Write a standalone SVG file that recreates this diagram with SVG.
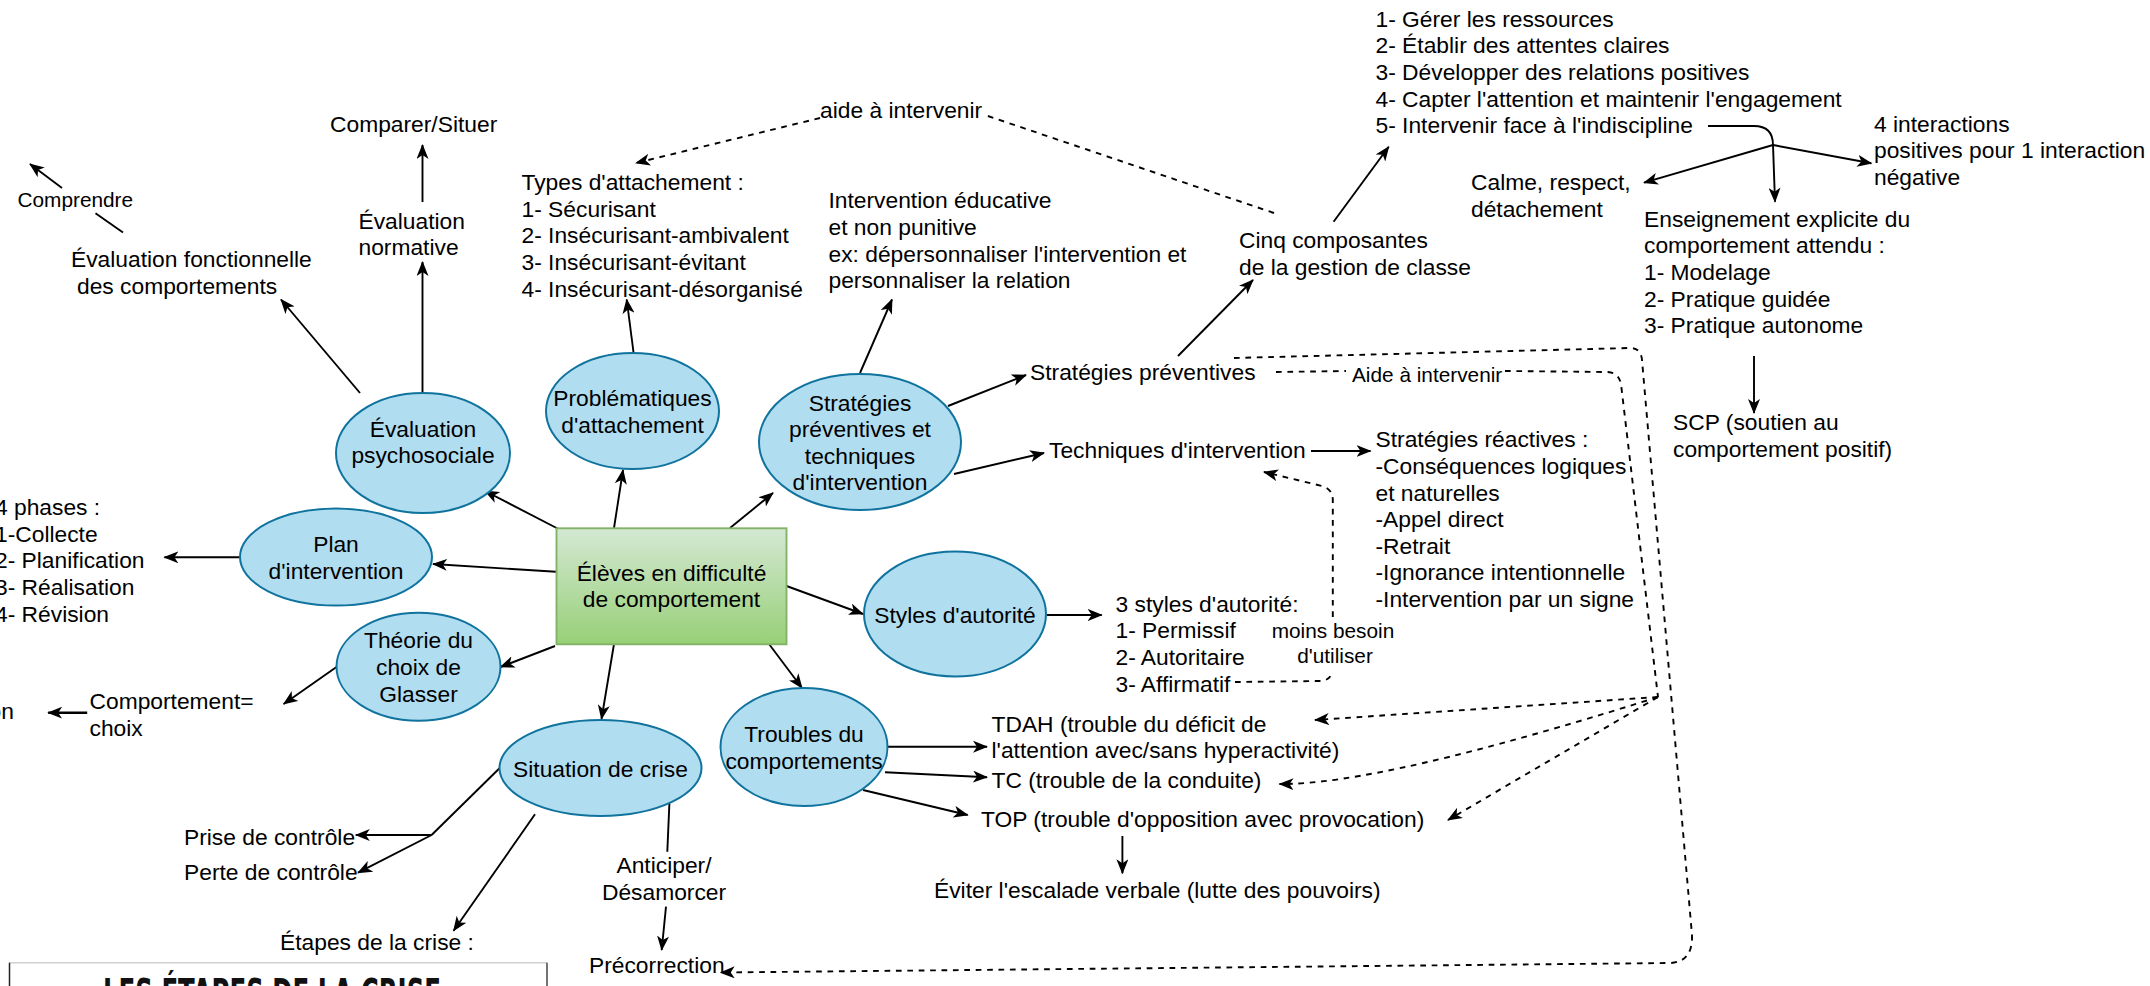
<svg xmlns="http://www.w3.org/2000/svg" width="2150" height="986" viewBox="0 0 2150 986">
<style>
text{font-family:"Liberation Sans",Arial,Helvetica,sans-serif;font-size:22.8px;fill:#000}
.sm{font-size:20.8px}
.c{text-anchor:middle}
.node{fill:#b1ddf0;stroke:#10739e;stroke-width:2}
.ln{fill:none;stroke:#000;stroke-width:1.9}
.ar{fill:none;stroke:#000;stroke-width:1.9;marker-end:url(#arr)}
.da{fill:none;stroke:#000;stroke-width:1.9;stroke-dasharray:5.7 5.7}
.dar{fill:none;stroke:#000;stroke-width:1.9;stroke-dasharray:5.7 5.7;marker-end:url(#arr)}
</style>
<defs>
<marker id="arr" markerUnits="userSpaceOnUse" viewBox="0 0 15 12" markerWidth="15" markerHeight="12" refX="14" refY="6" orient="auto">
<path d="M0,0 L15,6 L0,12 L4,6 Z" fill="#000" stroke="none"/>
</marker>
<linearGradient id="gr" x1="0" y1="0" x2="0" y2="1">
<stop offset="0" stop-color="#d5e8d4"/>
<stop offset="1" stop-color="#97d077"/>
</linearGradient>
</defs>
<rect width="2150" height="986" fill="#fff"/>

<g id="connectors">
<path class="ar" d="M558.5,529 L485,491"/>
<path class="ar" d="M614,528 L623,470"/>
<path class="ar" d="M730,528 L773,493"/>
<path class="ar" d="M560,572 L433,564"/>
<path class="ar" d="M555,646 L500.5,667"/>
<path class="ar" d="M614,644 L601.5,719"/>
<path class="ar" d="M786.5,586 L863,614"/>
<path class="ar" d="M769,644 L802,688"/>
<path class="ar" d="M360,393 L281,299.5"/>
<path class="ar" d="M422.5,393.5 L422.5,262"/>
<path class="ar" d="M422.5,202 L422.5,145"/>
<path class="ar" d="M62,188 L30,164"/>
<path class="ln" d="M123,232.5 L95.5,213.3"/>
<path class="ar" d="M633.6,353 L626.7,299.5"/>
<path class="ar" d="M860,373 L892,299.5"/>
<path class="ar" d="M948,406 L1026,375"/>
<path class="ar" d="M954,474 L1044,453"/>
<path class="ar" d="M1178,356 L1253,280"/>
<path class="ar" d="M1333.6,221.7 L1388.7,146.7"/>
<path class="ar" d="M1311,451 L1370.5,451"/>
<path class="ln" d="M1708,126 L1754,126 Q1773,126 1773,145"/>
<path class="ar" d="M1773,145 L1644,182.7"/>
<path class="ar" d="M1773,145 L1775,201.7"/>
<path class="ar" d="M1773,145 L1871.3,163.3"/>
<path class="ar" d="M1754,356 L1754,413"/>
<path class="ar" d="M240,557.3 L164.4,557.3"/>
<path class="ar" d="M336.5,667 L283.7,704"/>
<path class="ar" d="M87.2,712.7 L48.2,712.7" style="stroke-width:2.6"/>
<path class="ln" d="M499.5,768.3 L431.6,835"/>
<path class="ar" d="M431.6,835 L355.8,835"/>
<path class="ar" d="M431.6,835 L358,872.7"/>
<path class="ar" d="M535,814.3 L453.6,930.7"/>
<path class="ln" d="M669.4,803.3 L667.3,851.7"/>
<path class="ar" d="M666,906.7 L661.7,950"/>
<path class="ar" d="M1046.6,615 L1101.7,615"/>
<path class="ar" d="M888,746.7 L987,746.7"/>
<path class="ar" d="M885,772.3 L987,777.3"/>
<path class="ar" d="M863,790 L967.7,815"/>
<path class="ar" d="M1122.4,836 L1122.4,873.3"/>

<path class="da" d="M1274,213 L985,115"/>
<path class="dar" d="M820,118 L636,163"/>
<path class="dar" d="M1234,358 L1630,348 Q1641,348 1642,360 L1692,935 Q1693,962 1670,963 L720.7,972.5"/>
<path class="da" d="M1276,372 L1346,371"/>
<path class="da" d="M1505,371 L1608,372 Q1619,373 1621,384 L1658,697"/>
<path class="dar" d="M1658,697 L1315,720"/>
<path class="dar" d="M1658,697 Q1380,785 1279.5,784"/>
<path class="dar" d="M1658,697 L1448,820"/>
<path class="da" d="M1235,682 L1321,681 Q1331,680 1332.5,671"/>
<path class="dar" d="M1332.8,617 L1332.8,500 Q1332.8,489 1322,486 L1264,472"/>
</g>

<g id="center">
<rect x="556.5" y="528.3" width="230" height="116" fill="url(#gr)" stroke="#82b366" stroke-width="1.9"/>
<text class="c"><tspan x="671.5" y="580.7">Élèves en difficulté</tspan><tspan x="671.5" y="607">de comportement</tspan></text>
</g>

<g id="eval-psycho">
<ellipse class="node" cx="423" cy="453" rx="87" ry="60"/>
<text class="c"><tspan x="423" y="436.5">Évaluation</tspan><tspan x="423" y="463">psychosociale</tspan></text>
</g>
<g id="problematiques">
<ellipse class="node" cx="632.5" cy="411" rx="86.5" ry="58"/>
<text class="c"><tspan x="632.5" y="406">Problématiques</tspan><tspan x="632.5" y="433">d'attachement</tspan></text>
</g>
<g id="strategies">
<ellipse class="node" cx="860" cy="442" rx="101" ry="68"/>
<text class="c"><tspan x="860" y="410.5">Stratégies</tspan><tspan x="860" y="437">préventives et</tspan><tspan x="860" y="463.5">techniques</tspan><tspan x="860" y="490">d'intervention</tspan></text>
</g>
<g id="plan">
<ellipse class="node" cx="336" cy="557" rx="96" ry="48.5"/>
<text class="c"><tspan x="336" y="552">Plan</tspan><tspan x="336" y="579">d'intervention</tspan></text>
</g>
<g id="theorie">
<ellipse class="node" cx="418.5" cy="666.7" rx="82" ry="54"/>
<text class="c"><tspan x="418.5" y="648.3">Théorie du</tspan><tspan x="418.5" y="675">choix de</tspan><tspan x="418.5" y="701.7">Glasser</tspan></text>
</g>
<g id="situation">
<ellipse class="node" cx="600.5" cy="768" rx="101" ry="48"/>
<text class="c" x="600.5" y="776.7">Situation de crise</text>
</g>
<g id="styles">
<ellipse class="node" cx="955" cy="614" rx="91" ry="62.5"/>
<text class="c" x="955" y="622.5">Styles d'autorité</text>
</g>
<g id="troubles">
<ellipse class="node" cx="804" cy="747" rx="83.5" ry="59"/>
<text class="c"><tspan x="804" y="741.8">Troubles du</tspan><tspan x="804" y="768.5">comportements</tspan></text>
</g>

<g id="comprendre"><text class="sm" x="17.5" y="207">Comprendre</text></g>
<g id="eval-fonct"><text><tspan x="71" y="267">Évaluation fonctionnelle</tspan><tspan x="77" y="293.5">des comportements</tspan></text></g>
<g id="comparer"><text x="330" y="132">Comparer/Situer</text></g>
<g id="eval-norm"><text><tspan x="358.5" y="228.5">Évaluation</tspan><tspan x="358.5" y="255">normative</tspan></text></g>
<g id="types"><text><tspan x="521.5" y="190">Types d'attachement :</tspan><tspan x="521.5" y="216.7">1- Sécurisant</tspan><tspan x="521.5" y="243.3">2- Insécurisant-ambivalent</tspan><tspan x="521.5" y="270">3- Insécurisant-évitant</tspan><tspan x="521.5" y="296.7">4- Insécurisant-désorganisé</tspan></text></g>
<g id="aide1"><text x="820" y="118">aide à intervenir</text></g>
<g id="intervention-educ"><text><tspan x="828.5" y="208.3">Intervention éducative</tspan><tspan x="828.5" y="235">et non punitive</tspan><tspan x="828.5" y="261.7">ex: dépersonnaliser l'intervention et</tspan><tspan x="828.5" y="288.3">personnaliser la relation</tspan></text></g>
<g id="cinq"><text><tspan x="1239" y="248.3">Cinq composantes</tspan><tspan x="1239" y="275">de la gestion de classe</tspan></text></g>
<g id="liste5"><text><tspan x="1375.5" y="26.7">1- Gérer les ressources</tspan><tspan x="1375.5" y="53.3">2- Établir des attentes claires</tspan><tspan x="1375.5" y="80">3- Développer des relations positives</tspan><tspan x="1375.5" y="106.7">4- Capter l'attention et maintenir l'engagement</tspan><tspan x="1375.5" y="133.3">5- Intervenir face à l'indiscipline</tspan></text></g>
<g id="calme"><text><tspan x="1471" y="190">Calme, respect,</tspan><tspan x="1471" y="216.7">détachement</tspan></text></g>
<g id="interactions"><text><tspan x="1874" y="131.7">4 interactions</tspan><tspan x="1874" y="158.3">positives pour 1 interaction</tspan><tspan x="1874" y="185">négative</tspan></text></g>
<g id="enseignement"><text><tspan x="1644" y="226.7">Enseignement explicite du</tspan><tspan x="1644" y="253.3">comportement attendu :</tspan><tspan x="1644" y="280">1- Modelage</tspan><tspan x="1644" y="306.7">2- Pratique guidée</tspan><tspan x="1644" y="333.3">3- Pratique autonome</tspan></text></g>
<g id="scp"><text><tspan x="1673" y="430">SCP (soutien au</tspan><tspan x="1673" y="456.7">comportement positif)</tspan></text></g>
<g id="strat-prev"><text x="1030" y="380">Stratégies préventives</text></g>
<g id="aide2"><text class="sm" x="1352" y="381.5">Aide à intervenir</text></g>
<g id="techniques"><text x="1049" y="458.3">Techniques d'intervention</text></g>
<g id="reactives"><text><tspan x="1375.5" y="447.3">Stratégies réactives :</tspan><tspan x="1375.5" y="473.9">-Conséquences logiques</tspan><tspan x="1375.5" y="500.5">et naturelles</tspan><tspan x="1375.5" y="527.1">-Appel direct</tspan><tspan x="1375.5" y="553.7">-Retrait</tspan><tspan x="1375.5" y="580.3">-Ignorance intentionnelle</tspan><tspan x="1375.5" y="606.9">-Intervention par un signe</tspan></text></g>
<g id="styles3"><text><tspan x="1115.5" y="611.7">3 styles d'autorité:</tspan><tspan x="1115.5" y="638.3">1- Permissif</tspan><tspan x="1115.5" y="665">2- Autoritaire</tspan><tspan x="1115.5" y="691.7">3- Affirmatif</tspan></text></g>
<g id="moins"><text class="sm c"><tspan x="1333" y="638.3">moins besoin</tspan><tspan x="1335" y="663.3">d'utiliser</tspan></text></g>
<g id="tdah"><text><tspan x="991.5" y="731.7">TDAH (trouble du déficit de</tspan><tspan x="991.5" y="758.3">l'attention avec/sans hyperactivité)</tspan></text></g>
<g id="tc"><text x="991.5" y="788.3">TC (trouble de la conduite)</text></g>
<g id="top"><text x="981" y="826.7">TOP (trouble d'opposition avec provocation)</text></g>
<g id="eviter"><text x="934" y="898.3">Éviter l'escalade verbale (lutte des pouvoirs)</text></g>
<g id="phases"><text><tspan x="-5" y="515">4 phases :</tspan><tspan x="-5" y="541.7">1-Collecte</tspan><tspan x="-5" y="568.3">2- Planification</tspan><tspan x="-5" y="595">3- Réalisation</tspan><tspan x="-5" y="621.7">4- Révision</tspan></text></g>
<g id="comportement-choix"><text><tspan x="89.5" y="709.3">Comportement=</tspan><tspan x="89.5" y="736">choix</tspan></text></g>
<g id="on-cut"><text x="13.8" y="719" style="text-anchor:end">on</text></g>
<g id="prise"><text x="184" y="845">Prise de contrôle</text></g>
<g id="perte"><text x="184" y="880">Perte de contrôle</text></g>
<g id="etapes"><text x="280" y="950">Étapes de la crise :</text></g>
<g id="anticiper"><text class="c"><tspan x="664" y="873">Anticiper/</tspan><tspan x="664" y="899.5">Désamorcer</tspan></text></g>
<g id="precorrection"><text x="589" y="973">Précorrection</text></g>
<g id="etapes-image">
<line x1="9.5" y1="962.7" x2="547" y2="962.7" stroke="#d0d0d0" stroke-width="1.5"/>
<line x1="9.5" y1="962.7" x2="9.5" y2="986" stroke="#222" stroke-width="1.5"/>
<line x1="547" y1="962.7" x2="547" y2="986" stroke="#444" stroke-width="1.5"/>
<text x="103" y="1008" textLength="338" lengthAdjust="spacingAndGlyphs" style="font-family:'DejaVu Sans Condensed','DejaVu Sans',sans-serif;font-weight:bold;font-size:40px;fill:#111">LES ÉTAPES DE LA CRISE</text>
</g>
</svg>
